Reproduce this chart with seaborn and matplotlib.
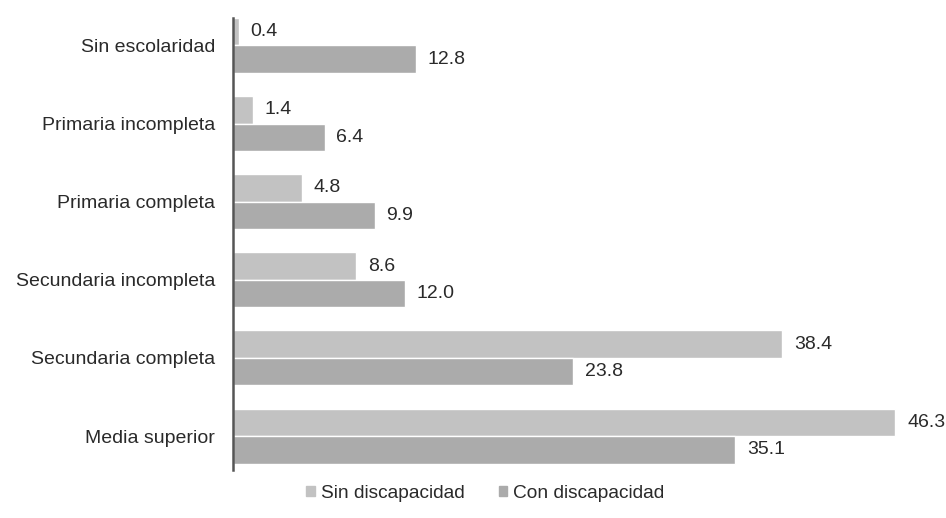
import pandas as pd
import matplotlib
matplotlib.use("Agg")
import matplotlib.pyplot as plt
import seaborn as sns

# Data
categorias = ["Sin escolaridad", "Primaria incompleta", "Primaria completa",
              "Secundaria incompleta", "Secundaria completa", "Media superior"]
sin_discapacidad = [0.4, 1.4, 4.8, 8.6, 38.4, 46.3]
con_discapacidad = [12.8, 6.4, 9.9, 12.0, 23.8, 35.1]
series = ["Sin discapacidad", "Con discapacidad"]

df = pd.DataFrame({
    "Nivel": categorias * 2,
    "Porcentaje": sin_discapacidad + con_discapacidad,
    "Grupo": [series[0]] * len(categorias) + [series[1]] * len(categorias),
})

sns.set_theme(style="white")
plt.rcParams["font.family"] = ["Liberation Sans", "DejaVu Sans"]

fig = plt.figure(figsize=(9.46, 5.18), dpi=100)
ax = fig.add_axes([233 / 946, 48 / 518, 708 / 946, 452 / 518])

sns.barplot(
    data=df, y="Nivel", x="Porcentaje", hue="Grupo", orient="h",
    palette=["#c2c2c2", "#ababab"], width=0.704, ax=ax,
    saturation=1, legend=False,
)

for cont in ax.containers:
    ax.bar_label(cont, fmt="%.1f", padding=8.5, fontsize=14, color="#2a2a2a")

ax.set_xlim(0, 49.5)
ax.set_ylim(5.435, -0.352)
ax.set_xlabel("")
ax.set_ylabel("")
ax.set_xticks([])
ax.tick_params(axis="y", length=0, pad=13, labelsize=14, labelcolor="#2a2a2a")

for s in ["top", "right", "bottom"]:
    ax.spines[s].set_visible(False)
ax.spines["left"].set_color("#555555")
ax.spines["left"].set_linewidth(1.8)

# Legend
handles = [plt.Rectangle((0, 0), 1, 1, color=c) for c in ["#c2c2c2", "#ababab"]]
fig.legend(handles, series, loc="center", bbox_to_anchor=(0.513, 0.048), ncol=2,
           frameon=False, fontsize=13.8, handlelength=0.45, handleheight=0.45,
           handletextpad=0.3, columnspacing=1.8, labelcolor="#2a2a2a")

fig.savefig("out.png", dpi=100, facecolor="white")
